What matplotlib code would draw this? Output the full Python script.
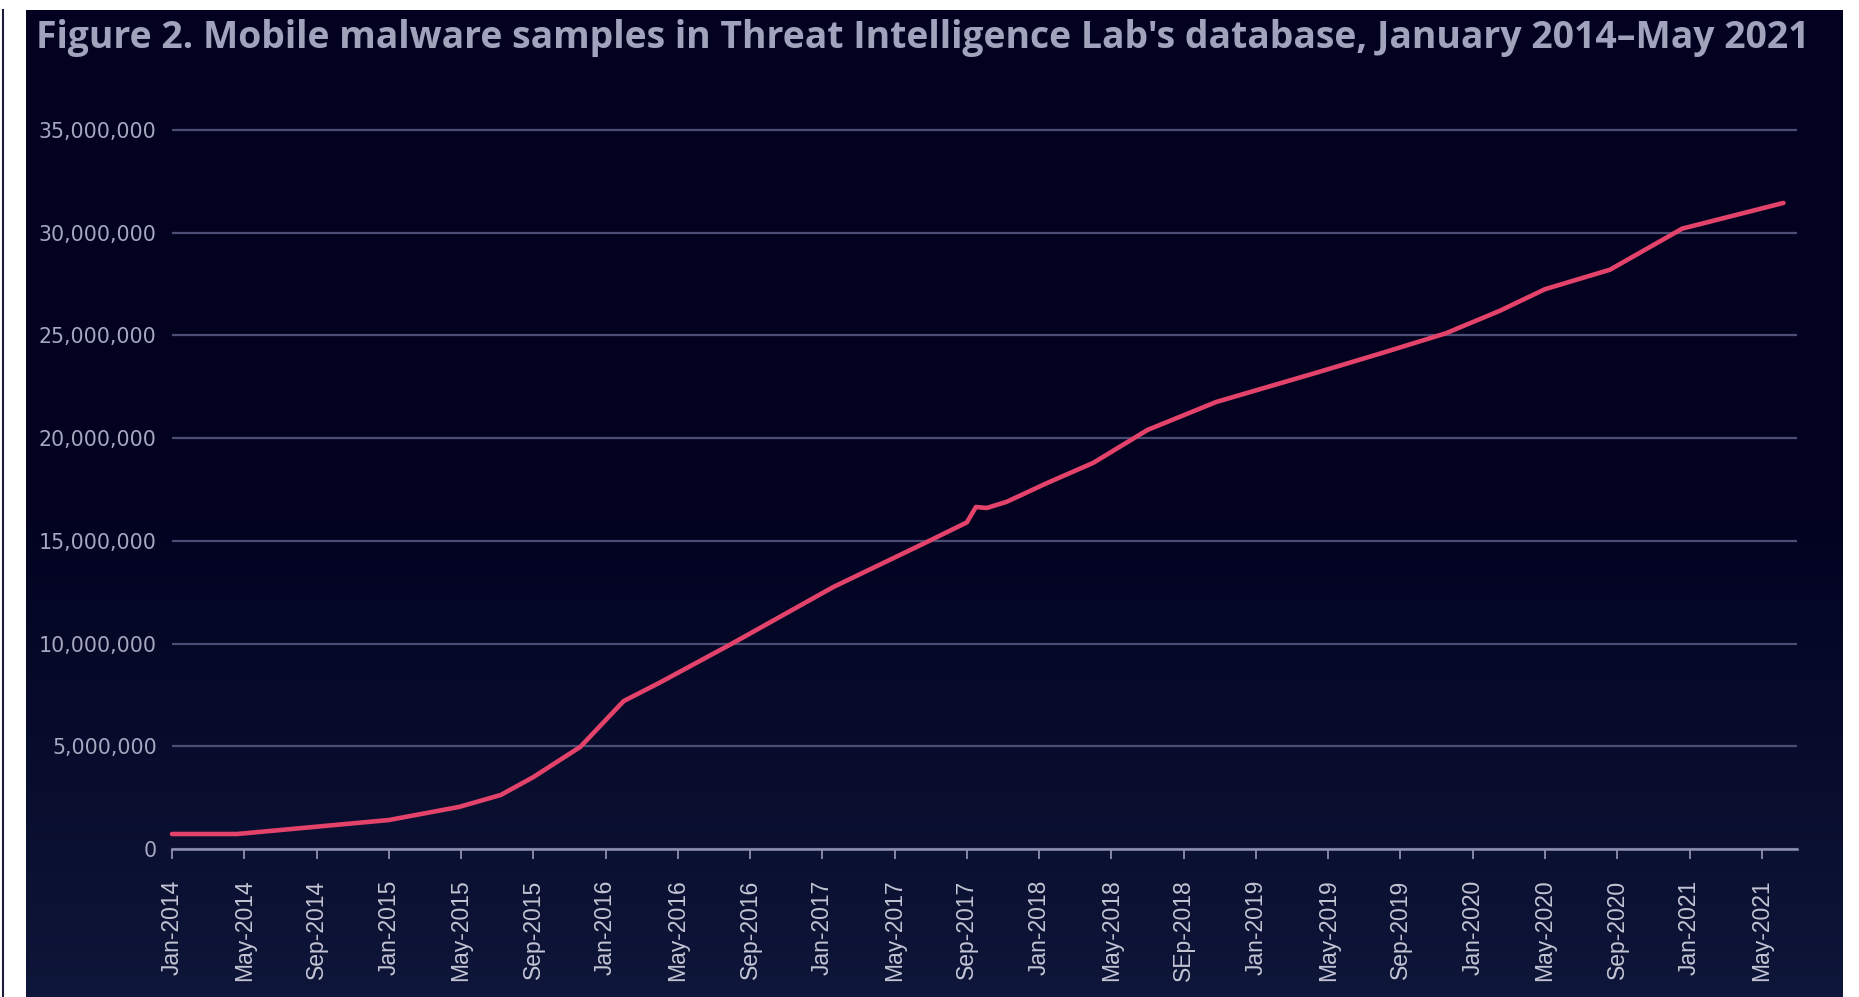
import numpy as np
import matplotlib
matplotlib.use('Agg')
import matplotlib.pyplot as plt
from matplotlib.colors import LinearSegmentedColormap
from matplotlib.ticker import FuncFormatter
from matplotlib.lines import Line2D

# ============================================================
# DATA
# ============================================================
# month index counted from Jan-2014 (0) and total samples in millions
months = [0, 3.6, 7.8, 12, 15.9, 18.2, 20, 22.6, 25, 27, 31, 36.6, 41.8, 44,
          44.5, 45.1, 46.2, 48.4, 51, 54, 57.8, 63.4, 67, 70.5, 73.5, 76,
          79.6, 83.6, 89.2]
samples_m = [0.73, 0.73, 1.07, 1.41, 2.05, 2.63, 3.5, 4.97, 7.2, 8.1, 10.0,
             12.75, 14.95, 15.9, 16.65, 16.6, 16.9, 17.8, 18.8, 20.4, 21.76,
             23.2, 24.15, 25.1, 26.2, 27.25, 28.2, 30.2, 31.45]

tick_labels = ['Jan-2014', 'May-2014', 'Sep-2014',
               'Jan-2015', 'May-2015', 'Sep-2015',
               'Jan-2016', 'May-2016', 'Sep-2016',
               'Jan-2017', 'May-2017', 'Sep-2017',
               'Jan-2018', 'May-2018', 'SEp-2018',
               'Jan-2019', 'May-2019', 'Sep-2019',
               'Jan-2020', 'May-2020', 'Sep-2020',
               'Jan-2021', 'May-2021']
tick_months = [4 * i for i in range(len(tick_labels))]
y_ticks = [0, 5e6, 10e6, 15e6, 20e6, 25e6, 30e6, 35e6]

TITLE = ("Figure 2. Mobile malware samples in Threat Intelligence Lab's "
         "database, January 2014\u2013May 2021")

# ============================================================
# STYLE
# ============================================================
W, H = 1859, 997
BG_TOP = '#020220'
BG_BOTTOM = '#0e1639'
LINE_COLOR = '#e3436a'
GRID_COLOR = '#4b4d74'
AXIS_COLOR = '#8e90b0'
YLABEL_COLOR = '#a6a8c0'
XLABEL_COLOR = '#c3c5d4'
TITLE_COLOR = '#a1a3bc'

fig = plt.figure(figsize=(W / 100, H / 100), dpi=100, facecolor='white')

# dark panel with a soft gradient towards the bottom
bg = fig.add_axes([26 / W, 0, (1843 - 26) / W, (H - 10) / H])
cmap = LinearSegmentedColormap.from_list('bg', [BG_TOP, BG_TOP, BG_BOTTOM])
grad = np.linspace(0, 1, 256).reshape(-1, 1)
bg.imshow(grad, aspect='auto', cmap=cmap, extent=[0, 1, 0, 1], origin='upper')
bg.set_axis_off()

# thin dark border line on the far left
fig.add_artist(Line2D([3 / W, 3 / W], [0, (H - 10) / H],
                      transform=fig.transFigure, color='#1a1d3a', lw=1.5))

# main axes
left = 172 / W
right = 1797 / W
bottom = (H - 849) / H
top_val = 36e6
px_per_unit = (849 - 130) / 35e6
top_px = 849 - top_val * px_per_unit
ax = fig.add_axes([left, bottom, right - left, (849 - top_px) / H])
ax.set_facecolor('none')

vals = [v * 1e6 for v in samples_m]
ax.plot(months, vals, color=LINE_COLOR, lw=3.3, solid_capstyle='round',
        solid_joinstyle='round', zorder=3, clip_on=False)

ax.set_xlim(0, 89.95)
ax.set_ylim(0, top_val)

ax.set_yticks(y_ticks)
ax.yaxis.set_major_formatter(FuncFormatter(lambda v, p: f'{int(v):,}'))
ax.yaxis.grid(True, color=GRID_COLOR, lw=1.6)
ax.set_axisbelow(True)

ax.set_xticks(tick_months)
ax.set_xticklabels(tick_labels, rotation=90, family='Liberation Sans',
                   fontsize=16.5, color=XLABEL_COLOR)

for lbl in ax.get_yticklabels():
    lbl.set_family('DejaVu Sans')
    lbl.set_fontsize(14.8)
    lbl.set_color(YLABEL_COLOR)

ax.tick_params(axis='y', length=0, pad=11)
ax.tick_params(axis='x', length=7, width=1.3, color=AXIS_COLOR, pad=15)

for s in ['top', 'right', 'left']:
    ax.spines[s].set_visible(False)
ax.spines['bottom'].set_color(AXIS_COLOR)
ax.spines['bottom'].set_linewidth(1.8)
ax.spines['bottom'].set_zorder(2)

title = fig.text(36 / W, 1 - 38 / H, TITLE, ha='left', va='center',
                 family='Open Sans', fontweight='bold', fontsize=25,
                 color=TITLE_COLOR)

# fit the title to the width it takes in the original
renderer = fig.canvas.get_renderer()
w_px = title.get_window_extent(renderer).width
title.set_fontsize(25 * (1776 / w_px))

fig.savefig('out.png', dpi=100, facecolor=fig.get_facecolor())
